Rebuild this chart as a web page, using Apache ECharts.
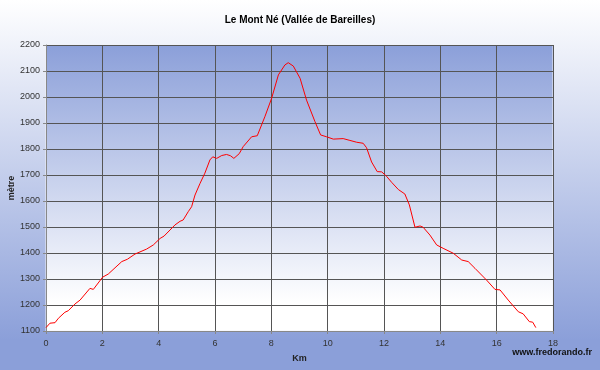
<!DOCTYPE html>
<html>
<head>
<meta charset="utf-8">
<script src="https://cdn.jsdelivr.net/npm/echarts@6/dist/echarts.min.js"></script>
<style>
html, body { margin: 0; padding: 0; }
#chart { width: 600px; height: 370px; }
</style>
</head>
<body>
<div id="chart"></div>
<script>
// profil: distance (km) et altitude (m)
var km = [0, 0.14, 0.32, 0.44, 0.67, 0.79, 1.03, 1.21, 1.56, 1.68, 2.01, 2.21, 2.69, 2.89, 3.16, 3.57, 3.81, 4.05, 4.19, 4.58, 4.76, 4.87, 5.05, 5.17, 5.29, 5.47, 5.64, 5.82, 5.92, 6.06, 6.24, 6.41, 6.55, 6.67, 6.86, 7.0, 7.30, 7.50, 7.77, 8.01, 8.25, 8.48, 8.60, 8.78, 9.02, 9.25, 9.55, 9.75, 9.96, 10.20, 10.55, 10.79, 11.03, 11.26, 11.38, 11.56, 11.76, 11.92, 12.09, 12.27, 12.51, 12.74, 12.90, 13.10, 13.28, 13.39, 13.45, 13.63, 13.87, 14.10, 14.46, 14.76, 14.99, 15.23, 15.64, 15.94, 16.12, 16.41, 16.77, 16.94, 17.16, 17.28, 17.39];
var metre = [1113, 1130, 1132, 1149, 1172, 1178, 1204, 1219, 1264, 1260, 1307, 1319, 1367, 1376, 1396, 1415, 1431, 1456, 1465, 1508, 1522, 1527, 1559, 1578, 1623, 1668, 1707, 1758, 1770, 1764, 1775, 1779, 1774, 1764, 1782, 1809, 1847, 1851, 1924, 1995, 2085, 2123, 2132, 2119, 2072, 1988, 1905, 1854, 1847, 1838, 1840, 1833, 1826, 1822, 1805, 1750, 1713, 1712, 1695, 1672, 1644, 1627, 1585, 1499, 1504, 1499, 1504, 1469, 1431, 1418, 1399, 1373, 1367, 1341, 1296, 1260, 1258, 1219, 1174, 1166, 1136, 1134, 1113];

var points = km.map(function (k, i) { return [k, metre[i]]; });

var myChart = echarts.init(document.getElementById('chart'));
var blue = '#8b9fd9';
var option = {
    animation: false,
    backgroundColor: new echarts.graphic.LinearGradient(0, 0, 0, 1, [
        { offset: 0, color: '#ffffff' },
        { offset: 0.92, color: blue },
        { offset: 1, color: blue }
    ]),
    title: {
        text: 'Le Mont Né (Vallée de Bareilles)',
        left: 'center',
        top: 10,
        textStyle: { fontFamily: 'Liberation Sans', fontSize: 10, fontWeight: 'bold', color: '#000' }
    },
    grid: {
        left: 46, right: 47, top: 45, bottom: 39,
        outerBoundsMode: 'none',
        containLabel: false,
        show: true,
        borderWidth: 1,
        borderColor: '#eef0f8',
        backgroundColor: new echarts.graphic.LinearGradient(0, 0, 0, 1, [
            { offset: 0, color: blue },
            { offset: 0.9, color: '#ffffff' },
            { offset: 1, color: '#ffffff' }
        ])
    },
    xAxis: {
        type: 'value',
        min: 0, max: 18, interval: 2,
        name: 'Km',
        nameLocation: 'middle',
        nameGap: 23,
        nameMoveOverlap: false,
        nameTextStyle: { fontFamily: 'Liberation Sans', fontSize: 9, fontWeight: 'bold', color: '#222' },
        axisLine: { show: true, lineStyle: { color: '#888', width: 1 } },
        axisTick: { show: true, length: 3, lineStyle: { color: '#888' } },
        axisLabel: { fontFamily: 'Liberation Sans', fontSize: 9, color: '#333', margin: 8 },
        splitLine: { show: true, lineStyle: { color: '#555', width: 1 } }
    },
    yAxis: {
        type: 'value',
        min: 1100, max: 2200, interval: 100,
        name: 'mètre',
        nameLocation: 'middle',
        nameGap: 30,
        nameMoveOverlap: false,
        nameRotate: 90,
        nameTextStyle: { fontFamily: 'Liberation Sans', fontSize: 9, fontWeight: 'bold', color: '#222' },
        axisLine: { show: true, lineStyle: { color: '#888', width: 1 } },
        axisTick: { show: true, length: 3, lineStyle: { color: '#888' } },
        axisLabel: {
            fontFamily: 'Liberation Sans', fontSize: 9, color: '#333', margin: 6,
            formatter: function (v) { return String(v); }
        },
        splitLine: { show: true, lineStyle: { color: '#555', width: 1 } }
    },
    graphic: [{
        type: 'text',
        right: 8,
        top: 348,
        style: { text: 'www.fredorando.fr', font: 'bold 9px "Liberation Sans"', fill: '#111' }
    }],
    series: [{
        type: 'line',
        data: points,
        showSymbol: false,
        lineStyle: { color: '#ff0000', width: 1 },
        itemStyle: { color: '#ff0000' }
    }]
};
myChart.setOption(option);
</script>
</body>
</html>
